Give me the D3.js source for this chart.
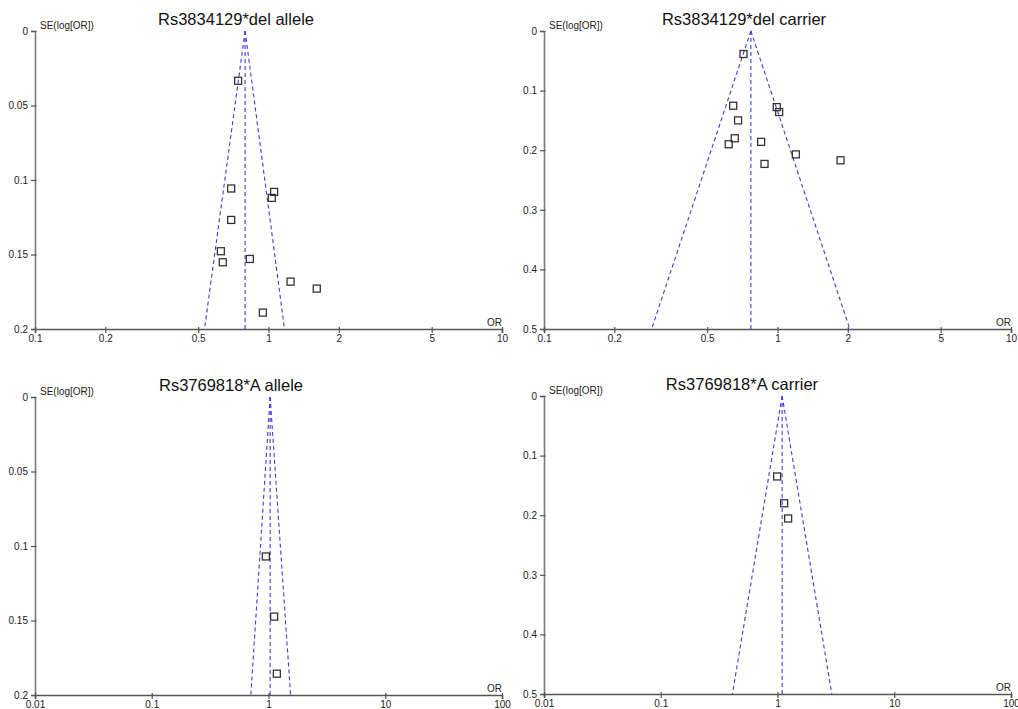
<!DOCTYPE html>
<html>
<head>
<meta charset="utf-8">
<script src="https://cdn.jsdelivr.net/npm/d3@7"></script>
<style>
  body { margin: 0; background: #fff; }
  text { font-family: "Liberation Sans", Arial, sans-serif; }
</style>
</head>
<body>
<svg id="chart" width="1018" height="709"></svg>
<script>
// titles
const titles = ["Rs3834129*del allele", "Rs3834129*del carrier", "Rs3769818*A allele", "Rs3769818*A carrier"];

// study points (OR, SE of log OR)
const or1 = [0.741, 0.692, 1.057, 1.033, 0.692, 0.625, 0.637, 0.832, 1.243, 1.61, 0.946];
const se1 = [0.0334, 0.1057, 0.108, 0.112, 0.1268, 0.1478, 0.1552, 0.153, 0.1682, 0.1729, 0.189];
const or2 = [0.715, 0.646, 0.993, 1.016, 0.678, 0.656, 0.618, 0.851, 0.880, 1.198, 1.862];
const se2 = [0.0386, 0.1254, 0.1277, 0.136, 0.150, 0.180, 0.190, 0.186, 0.223, 0.207, 0.217];
const or3 = [0.949, 1.118, 1.179];
const se3 = [0.107, 0.1474, 0.1857];
const or4 = [0.993, 1.14, 1.234];
const se4 = [0.135, 0.180, 0.2055];

// pooled OR and pseudo 95% limits at the bottom of the funnel
const pooled = [0.794, 0.769, 1.033, 1.096];
const funnelLow = [0.532, 0.289, 0.706, 0.411];
const funnelHigh = [1.171, 2.04, 1.546, 2.92];

// axis ticks
const xTicksTop = [0.1, 0.2, 0.5, 1, 2, 5, 10];
const xTicksBottom = [0.01, 0.1, 1, 10, 100];
const yTicksSmall = [0, 0.05, 0.1, 0.15, 0.2];
const yTicksLarge = [0, 0.1, 0.2, 0.3, 0.4, 0.5];

const panels = [
    { title: titles[0], or: or1, se: se1, i: 0, xTicks: xTicksTop, yTicks: yTicksSmall,
      left: 35, right: 502, top: 31, bottom: 329, titleX: 236 },
    { title: titles[1], or: or2, se: se2, i: 1, xTicks: xTicksTop, yTicks: yTicksLarge,
      left: 544, right: 1011, top: 31, bottom: 329, titleX: 744 },
    { title: titles[2], or: or3, se: se3, i: 2, xTicks: xTicksBottom, yTicks: yTicksSmall,
      left: 35, right: 502, top: 397, bottom: 695, titleX: 231 },
    { title: titles[3], or: or4, se: se4, i: 3, xTicks: xTicksBottom, yTicks: yTicksLarge,
      left: 544, right: 1011, top: 396, bottom: 694, titleX: 742 }
];

const svg = d3.select("#chart");

panels.forEach(p => {
    const x = d3.scaleLog()
        .domain([p.xTicks[0], p.xTicks[p.xTicks.length - 1]])
        .range([p.left, p.right]);
    const y = d3.scaleLinear()
        .domain([0, p.yTicks[p.yTicks.length - 1]])
        .range([p.top, p.bottom]);
    const seMax = p.yTicks[p.yTicks.length - 1];

    const g = svg.append("g");

    // y axis
    const yAxis = g.append("g")
        .attr("transform", `translate(${p.left},0)`)
        .call(d3.axisLeft(y).tickValues(p.yTicks).tickSize(4).tickPadding(3).tickFormat(d => String(d)));
    yAxis.select(".domain").attr("stroke", "#7a7a7a").attr("stroke-width", 1.6);
    yAxis.selectAll(".tick line").attr("x1", 1.5).attr("stroke", "#555").attr("stroke-width", 1.2);
    yAxis.selectAll(".tick text").attr("fill", "#222").style("font-size", "10px");

    // x axis
    const xAxis = g.append("g")
        .attr("transform", `translate(0,${p.bottom})`)
        .call(d3.axisBottom(x).tickValues(p.xTicks).tickSize(4).tickPadding(2).tickFormat(d => String(d)));
    xAxis.select(".domain").attr("stroke", "#555").attr("stroke-width", 1.6);
    xAxis.selectAll(".tick line").attr("y1", -2).attr("stroke", "#555").attr("stroke-width", 1.2);
    xAxis.selectAll(".tick text").attr("fill", "#222").style("font-size", "10px");

    // funnel (dashed)
    const funnel = [
        [[pooled[p.i], 0], [funnelLow[p.i], seMax]],
        [[pooled[p.i], 0], [pooled[p.i], seMax]],
        [[pooled[p.i], 0], [funnelHigh[p.i], seMax]]
    ];
    const line = d3.line().x(d => x(d[0])).y(d => y(d[1]));
    g.selectAll(".funnel")
        .data(funnel)
        .enter()
        .append("path")
        .attr("d", line)
        .attr("fill", "none")
        .attr("stroke", "#3b3bdc")
        .attr("stroke-width", 1.1)
        .attr("stroke-dasharray", "4,3");

    // study squares
    const s = 7;
    g.selectAll(".pt")
        .data(p.or.map((o, k) => ({ or: o, se: p.se[k] })))
        .enter()
        .append("rect")
        .attr("x", d => x(d.or) - s / 2)
        .attr("y", d => y(d.se) - s / 2)
        .attr("width", s)
        .attr("height", s)
        .attr("fill", "none")
        .attr("stroke", "#333")
        .attr("stroke-width", 1.3);

    // labels
    g.append("text")
        .attr("x", p.titleX)
        .attr("y", p.top - 6)
        .attr("text-anchor", "middle")
        .style("font-size", "16.5px")
        .attr("fill", "#111")
        .text(p.title);

    g.append("text")
        .attr("x", p.left + 5)
        .attr("y", p.top - 2)
        .style("font-size", "10px")
        .attr("fill", "#222")
        .text("SE(log[OR])");

    g.append("text")
        .attr("x", p.right)
        .attr("y", p.bottom - 3)
        .attr("text-anchor", "end")
        .style("font-size", "10px")
        .attr("fill", "#222")
        .text("OR");
});
</script>
</body>
</html>
